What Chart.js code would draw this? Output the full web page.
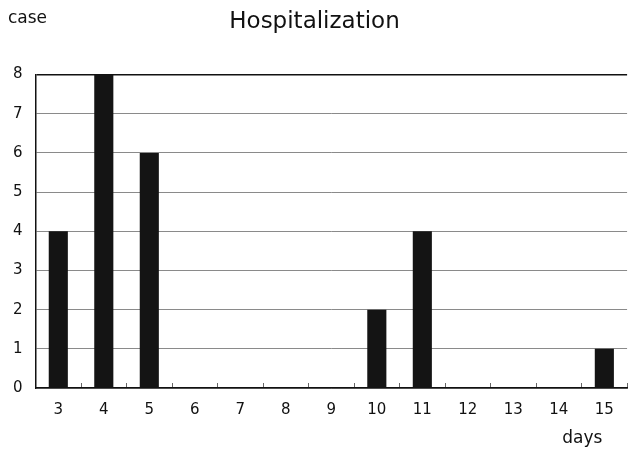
<!DOCTYPE html>
<html>
<head>
<meta charset="utf-8">
<script src="https://cdn.jsdelivr.net/npm/chart.js@4/dist/chart.umd.min.js"></script>
<style>
    html, body { margin: 0; padding: 0; background: #fff; overflow: hidden; }
    #wrap { width: 632px; height: 449px; }
</style>
</head>
<body>
<div id="wrap"><canvas id="hospChart"></canvas></div>
<script>
const days = ['3', '4', '5', '6', '7', '8', '9', '10', '11', '12', '13', '14', '15'];
const cases = [4, 8, 6, 0, 0, 0, 0, 2, 4, 0, 0, 0, 1];
const yTicks = [0, 1, 2, 3, 4, 5, 6, 7, 8];

const font = "'DejaVu Sans', sans-serif";

// axis unit labels: "case" above the y axis, "days" under the x axis at right
const unitLabels = {
    id: 'unitLabels',
    afterDraw(chart) {
        const ctx = chart.ctx;
        ctx.save();
        ctx.fillStyle = '#111';
        ctx.font = '17px ' + font;
        ctx.textBaseline = 'middle';
        ctx.textAlign = 'left';
        ctx.fillText('case', 8, 19);
        ctx.textAlign = 'center';
        ctx.fillText('days', chart.scales.x.getPixelForValue(12) - 22, 439);
        ctx.restore();
    }
};

const ctx = document.getElementById('hospChart').getContext('2d');
new Chart(ctx, {
    type: 'bar',
    data: {
        labels: days,
        datasets: [{
            label: 'Hospitalization',
            data: cases,
            backgroundColor: '#141414',
            borderWidth: 0,
            categoryPercentage: 1,
            barPercentage: 0.42
        }]
    },
    options: {
        responsive: true,
        maintainAspectRatio: false,
        animation: false,
        layout: { padding: { left: 0, right: 3, top: 4, bottom: 12 } },
        plugins: {
            legend: { display: false },
            tooltip: { enabled: false },
            title: {
                display: true,
                text: 'Hospitalization',
                color: '#111',
                font: { family: font, size: 23, weight: 'normal' },
                padding: { top: 4, bottom: 39 }
            }
        },
        scales: {
            x: {
                offset: true,
                grid: {
                    display: true,
                    offset: true,
                    drawOnChartArea: false,
                    drawTicks: true,
                    tickLength: -5,
                    color: '#666'
                },
                border: { display: true, color: '#111', width: 1.5 },
                ticks: {
                    color: '#111',
                    padding: 18,
                    font: { family: font, size: 15 }
                }
            },
            y: {
                min: 0,
                max: 8,
                afterBuildTicks: axis => { axis.ticks = yTicks.map(v => ({ value: v })); },
                grid: {
                    color: ctx => ctx.tick && ctx.tick.value === 8 ? '#111' : '#8a8a8a',
                    lineWidth: ctx => ctx.tick && ctx.tick.value === 8 ? 1.5 : 1,
                    drawTicks: false
                },
                border: { display: true, color: '#111', width: 1.5 },
                ticks: {
                    color: '#111',
                    padding: 13,
                    font: { family: font, size: 15 }
                }
            }
        }
    },
    plugins: [unitLabels]
});
</script>
</body>
</html>
